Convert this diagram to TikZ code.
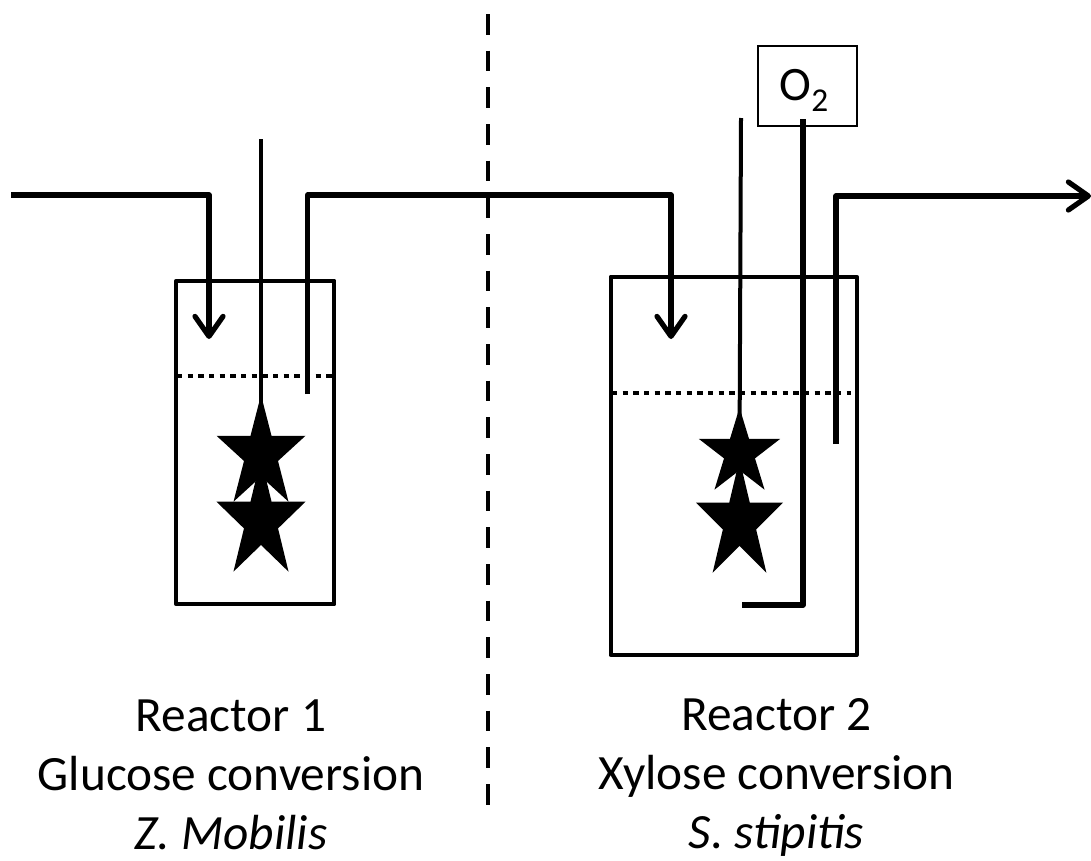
\documentclass[tikz,border=0pt]{standalone}
\usepackage{fontspec}
\setmainfont{Carlito}
\usetikzlibrary{shapes.geometric,arrows.meta}
\tikzset{
  pipe/.style={line width=3.9pt,black,line join=round},
  flow/.style={pipe,-{Straight Barb[length=15pt,width=21pt,line width=3.9pt,round]}},
  shaft/.style={line width=3pt,black},
  feed/.style={line width=4.2pt,black,line join=round},
  level/.style={line width=3pt,dash pattern=on 4pt off 4pt},
  divider/.style={line width=3.4pt,dash pattern=on 15.5pt off 12pt},
  starshape/.style={star,star points=5,star point ratio=2.618,fill=black,inner sep=0pt,outer sep=0pt,transform shape},
  lab/.style={font=\fontsize{37}{44.25}\selectfont,align=center,anchor=center},
  reactor/.style={draw,line width=3pt,inner sep=0pt,line join=round},
  box/.style={draw,line width=1.5pt,inner sep=0pt}
}
\begin{document}
\begin{tikzpicture}[x=0.75pt,y=-0.75pt]
\useasboundingbox (0,0) rectangle (1091,860);
\coordinate (inA) at (11,195);
\coordinate (r1in) at (209,339);
\coordinate (r1outB) at (307.7,394);
\coordinate (r2in) at (671,339);
\coordinate (r2outB) at (836,444);
\coordinate (out) at (1091,196);
\coordinate (d1) at (488,14);
\coordinate (d2) at (488,805);
\draw[divider] (d1) -- (d2);
% reactors
\node[reactor,minimum width=118.7pt,minimum height=242.7pt] (R1) at (255.2,442.5) {};
\node[reactor,minimum width=184.6pt,minimum height=283.7pt] (R2) at (733.6,465.8) {};
% levels
\coordinate (l1a) at (177,376); \coordinate (l1b) at (332,376);
\coordinate (l2a) at (612,393.3); \coordinate (l2b) at (851,393.3);
\draw[level] (l1a) -- (l1b);
\draw[level] (l2a) -- (l2b);
% flows
\draw[flow] (inA) -- (209,195) -- (r1in);
\draw[flow] (r1outB) -- (307.7,195) -- (671,195) -- (r2in);
\draw[flow] (r2outB) -- (836,196) -- (out);
% stirrers
\node[starshape,minimum size=88.5pt,xscale=.793] (s1a) at (261,454) {};
\node[starshape,minimum size=94pt,xscale=.748] (s1b) at (261,521) {};
\node[starshape,minimum size=68pt,xscale=.94] (s2a) at (739.5,453) {};
\node[starshape,minimum size=94pt,xscale=.73] (s2b) at (739.5,522) {};
\coordinate (sh1) at (261,139);
\coordinate (sh2) at (741,118);
\draw[shaft] (sh1) -- (s1a.center);
\draw[shaft] (sh2) -- (s2a.center);
% O2
\node[box,minimum width=73.9pt,minimum height=60.2pt] (O) at (807.7,85.9) {};
\node[font=\fontsize{36}{40}\selectfont,inner sep=0pt] (Otext) at (804,90.5) {O\raisebox{-8pt}{\fontsize{25}{28}\selectfont 2}};
\coordinate (o1) at (803,119);
\coordinate (o2) at (742,605);
\draw[feed] (o1) -- (803,605) -- (o2);
% labels
\node[lab] (L1) at (231,775) {Reactor 1\\Glucose conversion\\\textit{Z. Mobilis}};
\node[lab] (L2) at (776.5,777.5) {Reactor 2\\Xylose conversion\\\textit{S. stipitis}};
\end{tikzpicture}
\end{document}
